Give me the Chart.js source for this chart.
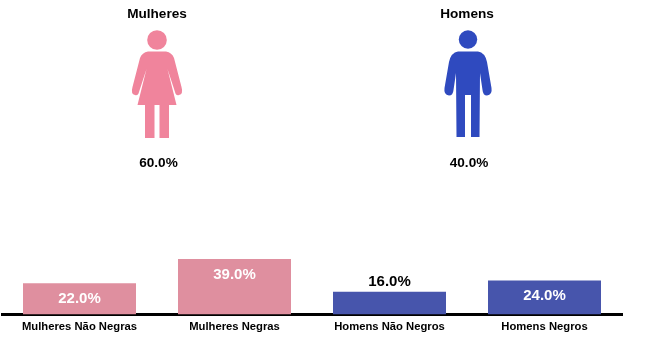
<!DOCTYPE html>
<html>
<head>
<meta charset="utf-8">
<title>Mulheres e Homens</title>
<style>
  html, body { margin: 0; padding: 0; background: #fff; }
  canvas { display: block; }
</style>
<script src="https://cdn.jsdelivr.net/npm/chart.js@4/dist/chart.umd.min.js"></script>
</head>
<body>
<canvas id="chart" width="652" height="351"></canvas>
<script>
const categories = ['Mulheres Não Negras', 'Mulheres Negras', 'Homens Não Negros', 'Homens Negros'];
const values = [22, 39, 16, 24];
const groupNames = ['Mulheres', 'Homens'];
const groupShares = [60, 40];

const PINK_BAR = '#DF8F9F';
const BLUE_BAR = '#4755AC';
const FONT = '"Liberation Sans", Arial, sans-serif';

function formatPct(v) {
  return v.toFixed(1) + '%';
}

// Traces one side of an icon outline, s = 1 going down the right, s = -1 coming back up the left
function womanSide(ctx, cx, s) {
  if (s > 0) {
    ctx.moveTo(cx, 51.5);
    ctx.lineTo(cx + 9, 51.5);
    ctx.quadraticCurveTo(cx + 15, 52.5, cx + 17, 58);
    ctx.lineTo(cx + 24.5, 87);
    ctx.quadraticCurveTo(cx + 26.5, 94, cx + 22, 95);
    ctx.quadraticCurveTo(cx + 19, 96, cx + 18, 92);
    ctx.lineTo(cx + 10.5, 69);
    ctx.lineTo(cx + 19.5, 105);
    ctx.lineTo(cx, 105);
  } else {
    ctx.lineTo(cx - 19.5, 105);
    ctx.lineTo(cx - 10.5, 69);
    ctx.lineTo(cx - 18, 92);
    ctx.quadraticCurveTo(cx - 19, 96, cx - 22, 95);
    ctx.quadraticCurveTo(cx - 26.5, 94, cx - 24.5, 87);
    ctx.lineTo(cx - 17, 58);
    ctx.quadraticCurveTo(cx - 15, 52.5, cx - 9, 51.5);
    ctx.closePath();
  }
}

function drawWoman(ctx, cx) {
  ctx.fillStyle = '#F0849C';
  ctx.beginPath();
  ctx.arc(cx, 40, 9.8, 0, Math.PI * 2);
  ctx.fill();

  ctx.beginPath();
  womanSide(ctx, cx, 1);
  womanSide(ctx, cx, -1);
  ctx.fill();

  ctx.fillRect(cx - 12, 104, 9.5, 34);
  ctx.fillRect(cx + 2.5, 104, 9.5, 34);
}

function manSide(ctx, cx, s) {
  if (s > 0) {
    ctx.moveTo(cx, 51.5);
    ctx.lineTo(cx + 10, 51.5);
    ctx.quadraticCurveTo(cx + 17, 52.5, cx + 19, 62);
    ctx.lineTo(cx + 23.5, 88);
    ctx.quadraticCurveTo(cx + 24.5, 95, cx + 19, 95.5);
    ctx.quadraticCurveTo(cx + 15, 95.5, cx + 14.5, 90);
    ctx.lineTo(cx + 12, 73);
    ctx.lineTo(cx + 11.5, 137);
    ctx.lineTo(cx + 3, 137);
    ctx.lineTo(cx + 3, 95);
  } else {
    ctx.lineTo(cx - 3, 95);
    ctx.lineTo(cx - 3, 137);
    ctx.lineTo(cx - 11.5, 137);
    ctx.lineTo(cx - 12, 73);
    ctx.lineTo(cx - 14.5, 90);
    ctx.quadraticCurveTo(cx - 15, 95.5, cx - 19, 95.5);
    ctx.quadraticCurveTo(cx - 24.5, 95, cx - 23.5, 88);
    ctx.lineTo(cx - 19, 62);
    ctx.quadraticCurveTo(cx - 17, 52.5, cx - 10, 51.5);
    ctx.closePath();
  }
}

function drawMan(ctx, cx) {
  ctx.fillStyle = '#2F4ABF';
  ctx.beginPath();
  ctx.arc(cx, 39.5, 9.2, 0, Math.PI * 2);
  ctx.fill();

  ctx.beginPath();
  manSide(ctx, cx, 1);
  manSide(ctx, cx, -1);
  ctx.fill();
}

// Top section: titles, icons and share of each group
const groupsPlugin = {
  id: 'groups',
  afterDraw(chart) {
    const ctx = chart.ctx;
    const centres = [157, 468];
    ctx.save();
    ctx.textAlign = 'center';
    ctx.textBaseline = 'middle';
    groupNames.forEach((name, i) => {
      ctx.fillStyle = '#000';
      ctx.font = 'bold 13.6px ' + FONT;
      ctx.fillText(name, centres[i] - (i === 1 ? 1 : 0), 14.5);
      ctx.fillText(formatPct(groupShares[i]), centres[i] + (i === 1 ? 1 : 1.5), 163);
    });
    drawWoman(ctx, centres[0]);
    drawMan(ctx, centres[1]);
    ctx.restore();
  }
};

// Value labels on the bars, the short bar gets its label outside
const barLabelsPlugin = {
  id: 'barLabels',
  afterDatasetsDraw(chart) {
    const ctx = chart.ctx;
    const bars = chart.getDatasetMeta(0).data;
    ctx.save();
    ctx.font = 'bold 15px ' + FONT;
    ctx.textAlign = 'center';
    ctx.textBaseline = 'middle';
    bars.forEach((bar, i) => {
      const outside = values[i] < 20;
      ctx.fillStyle = outside ? '#000' : '#fff';
      ctx.fillText(formatPct(values[i]), bar.x, bar.y + (outside ? -10 : 15.7));
    });
    ctx.restore();
  }
};

new Chart(document.getElementById('chart'), {
  type: 'bar',
  data: {
    labels: categories,
    datasets: [{
      data: values,
      backgroundColor: [PINK_BAR, PINK_BAR, BLUE_BAR, BLUE_BAR],
      categoryPercentage: 1,
      barPercentage: 0.729
    }]
  },
  options: {
    responsive: false,
    animation: false,
    layout: { padding: { top: 172.5, left: 2, right: 30, bottom: 0 } },
    plugins: {
      legend: { display: false },
      tooltip: { enabled: false }
    },
    scales: {
      x: {
        grid: { display: false, drawTicks: false },
        border: { display: true, color: '#000', width: 3 },
        ticks: {
          color: '#000',
          padding: 6,
          maxRotation: 0,
          autoSkip: false,
          font: { family: FONT, size: 11.25, weight: 'bold' }
        },
        afterFit(scale) {
          scale.height = 36.5;
        }
      },
      y: {
        display: false,
        min: 0,
        max: 100
      }
    }
  },
  plugins: [barLabelsPlugin, groupsPlugin]
});
</script>
</body>
</html>
